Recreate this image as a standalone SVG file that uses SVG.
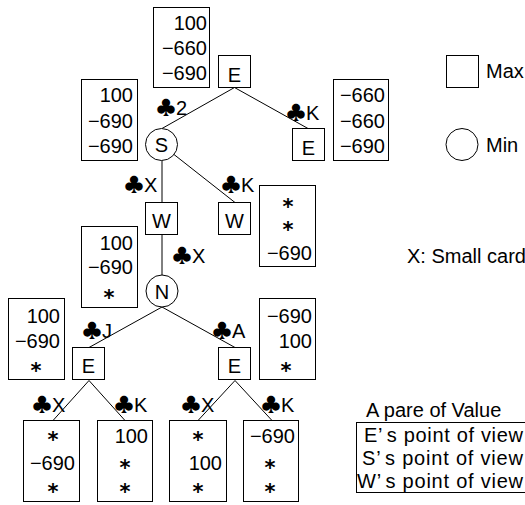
<svg xmlns="http://www.w3.org/2000/svg" width="525" height="505" viewBox="0 0 525 505">
  <style>
    .box { fill: #fff; stroke: #000; stroke-width: 1; }
    .edge { stroke: #000; stroke-width: 1; fill: none; }
    text { font-family: "Liberation Sans", Arial, sans-serif; font-size: 20px; fill: #000; }
    .r { text-anchor: end; }
    .c { text-anchor: middle; }
    .star { text-anchor: middle; font-family: "DejaVu Sans", sans-serif; font-weight: bold; font-size: 21px; }
    .club { font-family: "Noto Sans CJK JP", "DejaVu Sans", sans-serif; }
  </style>

  <rect width="525" height="505" fill="#fff"/>

  <!-- connectors -->
  <g id="connectors" class="edge">
    <line x1="234.5" y1="87.5" x2="162" y2="128.5"/>
    <line x1="234.5" y1="87.5" x2="308" y2="128.5"/>
    <line x1="162" y1="160.5" x2="162" y2="202.5"/>
    <line x1="174" y1="154.5" x2="235" y2="202.5"/>
    <line x1="162" y1="234.5" x2="162" y2="275"/>
    <line x1="162" y1="307" x2="89" y2="347.5"/>
    <line x1="162" y1="307" x2="235" y2="347.5"/>
    <line x1="89" y1="380.5" x2="53" y2="420.5"/>
    <line x1="89" y1="380.5" x2="125" y2="420.5"/>
    <line x1="235" y1="380.5" x2="198" y2="420.5"/>
    <line x1="235" y1="380.5" x2="272" y2="420.5"/>
  </g>

  <!-- edge labels (card played) -->
  <g id="edge-labels">
    <text x="156" y="115"><tspan class="club">♣</tspan>2</text>
    <text x="286" y="120"><tspan class="club">♣</tspan>K</text>
    <text x="124" y="192"><tspan class="club">♣</tspan>X</text>
    <text x="221" y="192"><tspan class="club">♣</tspan>K</text>
    <text x="172" y="263"><tspan class="club">♣</tspan>X</text>
    <text x="82" y="338"><tspan class="club">♣</tspan>J</text>
    <text x="212" y="338"><tspan class="club">♣</tspan>A</text>
    <text x="32" y="412"><tspan class="club">♣</tspan>X</text>
    <text x="114" y="412"><tspan class="club">♣</tspan>K</text>
    <text x="181" y="412"><tspan class="club">♣</tspan>X</text>
    <text x="261" y="412"><tspan class="club">♣</tspan>K</text>
  </g>

  <!-- game tree nodes -->
  <g id="node-e-root">
    <rect class="box" x="218.5" y="55.5" width="32" height="32"/>
    <text class="c" x="234.5" y="82">E</text>
  </g>
  <g id="node-s">
    <circle class="box" cx="161.5" cy="144.5" r="16"/>
    <text class="c" x="161.5" y="152">S</text>
  </g>
  <g id="node-e-k">
    <rect class="box" x="292.5" y="128.5" width="32" height="32"/>
    <text class="c" x="308.5" y="155">E</text>
  </g>
  <g id="node-w-x">
    <rect class="box" x="145.5" y="202.5" width="32" height="32"/>
    <text class="c" x="161.5" y="228">W</text>
  </g>
  <g id="node-w-k">
    <rect class="box" x="218.5" y="202.5" width="32" height="32"/>
    <text class="c" x="234.5" y="228">W</text>
  </g>
  <g id="node-n">
    <circle class="box" cx="162" cy="291" r="16"/>
    <text class="c" x="162" y="298.5">N</text>
  </g>
  <g id="node-e-j">
    <rect class="box" x="72.5" y="347.5" width="32" height="32"/>
    <text class="c" x="88.5" y="373">E</text>
  </g>
  <g id="node-e-a">
    <rect class="box" x="218.5" y="347.5" width="32" height="32"/>
    <text class="c" x="234.5" y="373">E</text>
  </g>

  <!-- value triples -->
  <g id="val-e-root">
    <rect class="box" x="153.5" y="7.5" width="56" height="80"/>
    <text class="r" x="207" y="30">100</text>
    <text class="r" x="207" y="55">−660</text>
    <text class="r" x="207" y="80">−690</text>
  </g>
  <g id="val-s">
    <rect class="box" x="81.5" y="79.5" width="56" height="81"/>
    <text class="r" x="133" y="102">100</text>
    <text class="r" x="133" y="128">−690</text>
    <text class="r" x="133" y="153">−690</text>
  </g>
  <g id="val-e-k">
    <rect class="box" x="333.5" y="79.5" width="55" height="81"/>
    <text class="r" x="385" y="102">−660</text>
    <text class="r" x="385" y="128">−660</text>
    <text class="r" x="385" y="153">−690</text>
  </g>
  <g id="val-w-k">
    <rect class="box" x="259.5" y="185.5" width="56" height="81"/>
    <text class="star" x="288" y="214">*</text>
    <text class="star" x="288" y="237">*</text>
    <text class="r" x="312" y="260">−690</text>
  </g>
  <g id="val-n">
    <rect class="box" x="81.5" y="226.5" width="56" height="81"/>
    <text class="r" x="133" y="250">100</text>
    <text class="r" x="133" y="274">−690</text>
    <text class="star" x="109" y="305">*</text>
  </g>
  <g id="val-e-j">
    <rect class="box" x="8.5" y="298.5" width="56" height="81"/>
    <text class="r" x="60" y="323">100</text>
    <text class="r" x="60" y="348">−690</text>
    <text class="star" x="36" y="378">*</text>
  </g>
  <g id="val-e-a">
    <rect class="box" x="259.5" y="298.5" width="56" height="81"/>
    <text class="r" x="312" y="323">−690</text>
    <text class="r" x="312" y="348">100</text>
    <text class="star" x="286" y="378">*</text>
  </g>

  <!-- leaf triples -->
  <g id="leaf-jx">
    <rect class="box" x="23.5" y="420.5" width="56" height="81"/>
    <text class="star" x="53" y="447">*</text>
    <text class="r" x="75" y="470">−690</text>
    <text class="star" x="53" y="499">*</text>
  </g>
  <g id="leaf-jk">
    <rect class="box" x="97.5" y="420.5" width="55" height="81"/>
    <text class="r" x="148" y="443">100</text>
    <text class="star" x="125" y="475">*</text>
    <text class="star" x="125" y="499">*</text>
  </g>
  <g id="leaf-ax">
    <rect class="box" x="169.5" y="420.5" width="57" height="81"/>
    <text class="star" x="198" y="447">*</text>
    <text class="r" x="222" y="470">100</text>
    <text class="star" x="198" y="499">*</text>
  </g>
  <g id="leaf-ak">
    <rect class="box" x="243.5" y="420.5" width="55" height="81"/>
    <text class="r" x="295" y="443">−690</text>
    <text class="star" x="270" y="475">*</text>
    <text class="star" x="270" y="499">*</text>
  </g>

  <!-- legend -->
  <g id="legend-max">
    <rect class="box" x="446.5" y="55.5" width="32" height="32"/>
    <text x="486" y="78">Max</text>
  </g>
  <g id="legend-min">
    <circle class="box" cx="462" cy="144.5" r="16"/>
    <text x="486" y="152">Min</text>
  </g>
  <g id="legend-x">
    <text x="407" y="263">X: Small card</text>
  </g>
  <g id="legend-values">
    <text x="366" y="417">A pare of Value</text>
    <rect class="box" x="356.5" y="422.5" width="172" height="70"/>
    <text x="364" y="442" textLength="159" lengthAdjust="spacing">E’<tspan dx="4">s</tspan> point of view</text>
    <text x="362" y="465" textLength="161" lengthAdjust="spacing">S’<tspan dx="4">s</tspan> point of view</text>
    <text x="357" y="488" textLength="166" lengthAdjust="spacing">W’<tspan dx="4">s</tspan> point of view</text>
  </g>
</svg>
